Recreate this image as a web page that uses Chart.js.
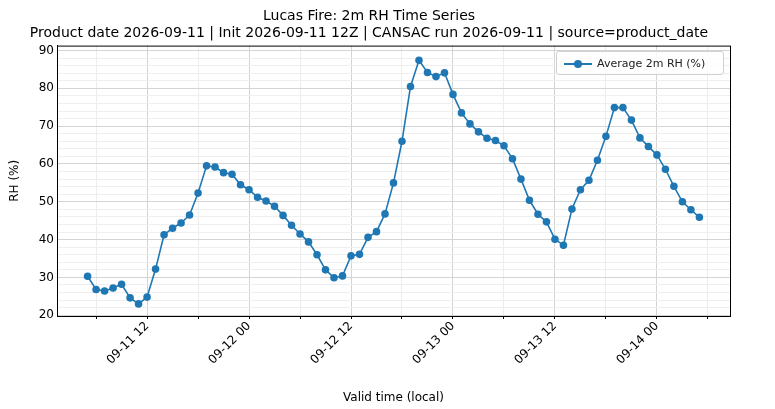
<!DOCTYPE html>
<html>
<head>
<meta charset="utf-8">
<script src="https://cdn.jsdelivr.net/npm/chart.js@4"></script>
<style>
  body { margin: 0; background: #fff; }
  #wrap { position: relative; width: 775px; height: 409px; }
  #legend { position: absolute; left: 556px; top: 51px; width: 168px; height: 24px; border: 1px solid #d0d0d0; border-radius: 3px;
            background: rgba(255,255,255,0.8); font: 11px 'DejaVu Sans', sans-serif; color: #222; box-sizing: border-box; }
  #legend .ln { position: absolute; left: 7px; top: 11px; width: 28px; height: 2px; background: #1f77b4; }
  #legend .dt { position: absolute; left: 17px; top: 8px; width: 8px; height: 8px; border-radius: 50%; background: #1f77b4; }
  #legend span { position: absolute; left: 40px; top: 5px; }
</style>
</head>
<body>
<div id="wrap">
  <canvas id="c" width="775" height="409"></canvas>
  <div id="legend"><div class="ln"></div><div class="dt"></div><span>Average 2m RH (%)</span></div>
</div>
<script>
// hours since 09-11 00 local, first sample at 05
const startHour = 5;
const rhValues = [30.3, 26.8, 26.4, 27.2, 28.2, 24.6, 23.0, 24.8, 32.2, 41.3, 43.0, 44.4, 46.5, 52.3, 59.5, 59.2,
  57.7, 57.3, 54.5, 53.2, 51.2, 50.2, 48.8, 46.4, 43.8, 41.5, 39.4, 36.0, 32.0, 29.9, 30.4, 35.7, 36.1, 40.6, 42.1,
  46.8, 55.0, 66.0, 80.5, 87.4, 84.2, 83.1, 84.1, 78.4, 73.5, 70.6, 68.5, 66.8, 66.2, 64.8, 61.4, 56.0, 50.4, 46.7,
  44.7, 40.1, 38.5, 48.1, 53.2, 55.7, 61.0, 67.3, 74.9, 74.9, 71.6, 66.9, 64.6, 62.4, 58.6, 54.1, 50.0, 47.9, 45.9];
const tickHours = [12, 24, 36, 48, 60, 72];
const tickLabels = ['09-11 12', '09-12 00', '09-12 12', '09-13 00', '09-13 12', '09-14 00'];

const points = rhValues.map((v, i) => ({ x: startHour + i, y: v }));
const font = { family: "'DejaVu Sans', sans-serif", size: 12 };

// matplotlib-style full frame around the plot area
const frame = {
  id: 'frame',
  afterDraw(chart) {
    const { ctx, chartArea: a } = chart;
    ctx.save();
    ctx.strokeStyle = '#000';
    ctx.lineWidth = 1;
    ctx.strokeRect(a.left + 0.5, a.top + 0.5, a.right - a.left, a.bottom - a.top);
    ctx.restore();
  }
};

new Chart(document.getElementById('c'), {
  type: 'line',
  data: {
    datasets: [{
      label: 'Average 2m RH (%)', data: points, borderColor: '#1f77b4', backgroundColor: '#1f77b4',
      borderWidth: 1.6, pointRadius: 3, pointHoverRadius: 3, tension: 0
    }]
  },
  options: {
    responsive: false, animation: false,
    layout: { padding: { left: 8, right: 45, top: 0, bottom: 0 } },
    plugins: {
      legend: { display: false }, tooltip: { enabled: false },
      title: {
        display: true, color: '#000', padding: { top: 8, bottom: 4 },
        font: { family: "'DejaVu Sans', sans-serif", size: 14, weight: 'normal', lineHeight: 1.2 },
        text: ['Lucas Fire: 2m RH Time Series',
          'Product date 2026-09-11 | Init 2026-09-11 12Z | CANSAC run 2026-09-11 | source=product_date']
      }
    },
    scales: {
      x: {
        type: 'linear', min: 1.4, max: 80.6,
        afterBuildTicks: s => { s.ticks = []; for (let h = 6; h <= 78; h += 6) s.ticks.push({ value: h }); },
        afterFit: s => { s.height = 93; },
        ticks: {
          color: '#000', font, maxRotation: 45, minRotation: 45, autoSkip: false, padding: 0,
          callback: v => { const i = tickHours.indexOf(v); return i >= 0 ? tickLabels[i] : ''; }
        },
        grid: {
          color: c => (c.tick && c.tick.value % 12 === 0) ? '#d4d4d4' : '#ececec',
          tickColor: '#000', tickLength: c => (c.tick && c.tick.value % 12 === 0) ? 5 : 3
        },
        border: { color: '#000' },
        title: { display: true, text: 'Valid time (local)', color: '#000', font, padding: { top: 0, bottom: 4 } }
      },
      y: {
        min: 19.8, max: 91.3,
        afterBuildTicks: s => { s.ticks = []; for (let v = 20; v <= 90; v += 2) s.ticks.push({ value: v }); },
        afterFit: s => { s.width = 49; },
        ticks: { color: '#000', font, autoSkip: false, padding: 3, callback: v => v % 10 === 0 ? v : '' },
        grid: {
          color: c => (c.tick && c.tick.value % 10 === 0) ? '#d4d4d4' : '#efefef',
          tickColor: '#000', tickLength: c => (c.tick && c.tick.value % 10 === 0) ? 5 : 0
        },
        border: { color: '#000' },
        title: { display: true, text: 'RH (%)', color: '#000', font, padding: { top: 0, bottom: 0 } }
      }
    }
  },
  plugins: [frame]
});
</script>
</body>
</html>
